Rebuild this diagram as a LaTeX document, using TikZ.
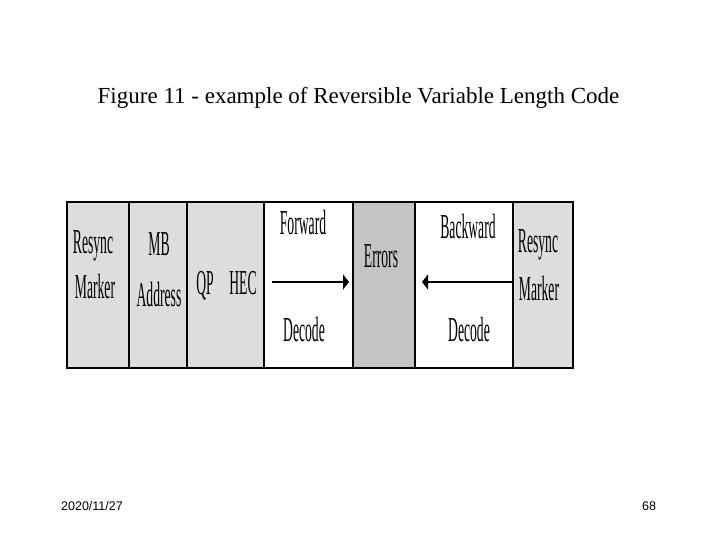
\documentclass[tikz,border=0pt]{standalone}
\usepackage{fontspec}
\setmainfont{Liberation Serif}
\newfontfamily\narrowfont[FakeStretch=0.39]{Liberation Serif}
\newfontfamily\footfont{Liberation Sans}
\usetikzlibrary{arrows.meta}
\definecolor{cellgrey}{RGB}{221,221,221}
\definecolor{errgrey}{RGB}{196,196,196}
\tikzset{
  cell/.style={draw=black, line width=1.3pt, inner sep=0pt},
  lbl/.style={font=\narrowfont\fontsize{35}{38}\selectfont, inner sep=0pt, anchor=base},
  arr/.style={line width=1.5pt, -{Triangle[length=6pt,width=15pt]}},
}
\begin{document}
\begin{tikzpicture}[x=1pt,y=-1pt]
\useasboundingbox (0,0) rectangle (720,540);
% title
\node[font=\fontsize{23}{26}\selectfont, anchor=base, inner sep=0pt] (title) at (358.5,104) {Figure 11 - example of Reversible Variable Length Code};
% cells
\path[cell, fill=cellgrey] (67,202) rectangle (129,368);
\path[cell, fill=cellgrey] (129,202) rectangle (187,368);
\path[cell, fill=cellgrey] (187,202) rectangle (264,368);
\path[cell, fill=white] (264,202) rectangle (353,368);
\path[cell, fill=errgrey] (353,202) rectangle (415,368);
\path[cell, fill=white] (415,202) rectangle (513,368);
\path[cell, fill=cellgrey] (513,202) rectangle (573,368);
\draw[line width=2pt] (67,202) rectangle (573,368);
% labels
\node[lbl] (rs1) at (93,253) {Resync};
\node[lbl] (mk1) at (95,298) {Marker};
\node[lbl] (mb) at (159,255) {MB};
\node[lbl] (ad) at (159,306) {Address};
\node[lbl] (qp) at (205,294) {QP};
\node[lbl] (hec) at (243,294) {HEC};
\node[lbl] (fw) at (303,235) {Forward};
\node[lbl] (dc1) at (304,341) {Decode};
\node[lbl] (err) at (381,267) {Errors};
\node[lbl] (bw) at (468,238) {Backward};
\node[lbl] (dc2) at (469,341) {Decode};
\node[lbl] (rs2) at (538,252) {Resync};
\node[lbl] (mk2) at (539,300) {Marker};
% arrows
\coordinate (fs) at (272,282);
\coordinate (fe) at (349,282);
\coordinate (bs) at (512,282);
\coordinate (be) at (422,282);
\draw[arr] (fs) -- (fe);
\draw[arr] (bs) -- (be);
% footer
\node[font=\footfont\fontsize{12.5}{14}\selectfont, anchor=base, inner sep=0pt] (date) at (92,510) {2020/11/27};
\node[font=\footfont\fontsize{12.5}{14}\selectfont, anchor=base, inner sep=0pt] (page) at (649,510) {68};
\end{tikzpicture}
\end{document}
